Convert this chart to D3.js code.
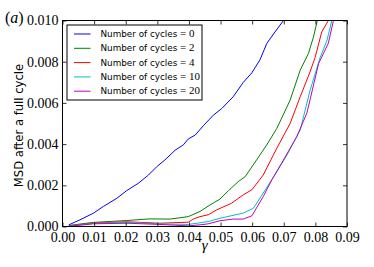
<!DOCTYPE html>
<html>
<head>
<meta charset="utf-8">
<script src="https://cdn.jsdelivr.net/npm/d3@7"></script>
<style>
  body { margin: 0; background: #fff; }
  svg { display: block; }
</style>
</head>
<body>
<div id="chart"></div>
<script>
// values
const xTicks = [0, 0.01, 0.02, 0.03, 0.04, 0.05, 0.06, 0.07, 0.08, 0.09];
const yTicks = [0, 0.002, 0.004, 0.006, 0.008, 0.010];
const cycleLabels = ["0", "2", "4", "10", "20"];
const colors = ["#0000ff", "#008000", "#ff0000", "#00bfbf", "#bf00bf"];

const gamma0 = [0.002, 0.0055, 0.0098, 0.0129, 0.0172, 0.0203, 0.024, 0.0272, 0.0298, 0.0324, 0.0356, 0.0382, 0.0398, 0.042, 0.0446, 0.0477, 0.0504, 0.054, 0.0572, 0.0599, 0.0625, 0.0646, 0.0672, 0.0699];
const msd0 = [0.00008, 0.00032, 0.00065, 0.00097, 0.00137, 0.00174, 0.0021, 0.0025, 0.0029, 0.00323, 0.0037, 0.00396, 0.00425, 0.00444, 0.0049, 0.0054, 0.00573, 0.0063, 0.0070, 0.00746, 0.0081, 0.00888, 0.00944, 0.0100];

const gamma2 = [0.002, 0.0098, 0.0203, 0.0277, 0.034, 0.0398, 0.0435, 0.0467, 0.0498, 0.0525, 0.0556, 0.0578, 0.0614, 0.0646, 0.0678, 0.072, 0.0752, 0.0778, 0.0794, 0.0806];
const msd2 = [0.00005, 0.0002, 0.00029, 0.00037, 0.00036, 0.00048, 0.00073, 0.00105, 0.00133, 0.00174, 0.00218, 0.00242, 0.00323, 0.00396, 0.00476, 0.00613, 0.00759, 0.0084, 0.0092, 0.0100];

const gamma4 = [0.002, 0.0098, 0.0203, 0.0308, 0.0398, 0.0414, 0.0435, 0.0461, 0.0488, 0.0535, 0.0572, 0.0599, 0.0635, 0.0678, 0.072, 0.0752, 0.0783, 0.0799, 0.082, 0.0841];
const msd4 = [0.00003, 0.00017, 0.00023, 0.00016, 0.00021, 0.00036, 0.00048, 0.00057, 0.00081, 0.00113, 0.00154, 0.00178, 0.0025, 0.0038, 0.005, 0.0063, 0.0075, 0.0082, 0.00944, 0.0100];

const gamma10 = [0.002, 0.0098, 0.0203, 0.0308, 0.0398, 0.0435, 0.0461, 0.0498, 0.0572, 0.0604, 0.0635, 0.0678, 0.071, 0.0752, 0.0783, 0.0815, 0.0836, 0.0852];
const msd10 = [0.00002, 0.00015, 0.0002, 0.00013, 0.0001, 0.00018, 0.00024, 0.0004, 0.00065, 0.00089, 0.00162, 0.00266, 0.00347, 0.00468, 0.0066, 0.0082, 0.009, 0.0100];

const gamma20 = [0.002, 0.0098, 0.0203, 0.0308, 0.0398, 0.0435, 0.0461, 0.0498, 0.054, 0.0572, 0.0599, 0.0635, 0.0662, 0.0699, 0.0741, 0.0773, 0.081, 0.0841, 0.0857];
const msd20 = [0.00001, 0.00013, 0.00016, 0.0001, 0.00003, 0.00008, 0.00013, 0.00028, 0.00036, 0.00036, 0.00052, 0.00145, 0.00226, 0.00323, 0.00436, 0.0055, 0.0079, 0.0089, 0.0100];

const series = [
    { gamma: gamma0, msd: msd0 },
    { gamma: gamma2, msd: msd2 },
    { gamma: gamma4, msd: msd4 },
    { gamma: gamma10, msd: msd10 },
    { gamma: gamma20, msd: msd20 }
].map((s, i) => ({
    label: cycleLabels[i],
    color: colors[i],
    points: s.gamma.map((g, j) => [g, s.msd[j]])
}));

const width = 374;
const height = 267;
const margin = { top: 20.5, right: 27, bottom: 40.5, left: 62.5 };
const innerW = width - margin.left - margin.right;
const innerH = height - margin.top - margin.bottom;

const serif = "'Liberation Serif', 'Times New Roman', serif";
const sans = "'DejaVu Sans', sans-serif";

const x = d3.scaleLinear().domain([0, 0.09]).range([0, innerW]);
const y = d3.scaleLinear().domain([0, 0.010]).range([innerH, 0]);

const svg = d3.select("#chart")
    .append("svg")
    .attr("width", width)
    .attr("height", height);

svg.append("defs").append("clipPath")
    .attr("id", "plot-clip")
    .append("rect")
    .attr("width", innerW)
    .attr("height", innerH);

const g = svg.append("g")
    .attr("transform", `translate(${margin.left},${margin.top})`);

// data lines
const line = d3.line()
    .x(d => x(d[0]))
    .y(d => y(d[1]));

g.append("g")
    .attr("clip-path", "url(#plot-clip)")
    .selectAll("path")
    .data(series)
    .join("path")
    .attr("fill", "none")
    .attr("stroke", d => d.color)
    .attr("stroke-width", 1)
    .attr("d", d => line(d.points));

// axes: ticks pointing inward on all four sides
function styleAxis(sel) {
    sel.select(".domain").remove();
    sel.selectAll(".tick line").attr("stroke", "#000").attr("stroke-width", 0.8);
}

g.append("g")
    .attr("transform", `translate(0,${innerH})`)
    .call(d3.axisBottom(x).tickValues(xTicks).tickFormat(d3.format(".2f")).tickSize(-4).tickPadding(6))
    .call(styleAxis)
    .selectAll("text")
    .attr("font-family", serif)
    .attr("font-size", 14)
    .attr("fill", "#000");

g.append("g")
    .call(d3.axisTop(x).tickValues(xTicks).tickFormat("").tickSize(-4))
    .call(styleAxis);

g.append("g")
    .call(d3.axisLeft(y).tickValues(yTicks).tickFormat(d3.format(".3f")).tickSize(-4).tickPadding(4))
    .call(styleAxis)
    .selectAll("text")
    .attr("font-family", serif)
    .attr("font-size", 14)
    .attr("fill", "#000");

g.append("g")
    .attr("transform", `translate(${innerW},0)`)
    .call(d3.axisRight(y).tickValues(yTicks).tickFormat("").tickSize(-4))
    .call(styleAxis);

// frame
g.append("rect")
    .attr("width", innerW)
    .attr("height", innerH)
    .attr("fill", "none")
    .attr("stroke", "#000")
    .attr("stroke-width", 1);

// axis labels
svg.append("text")
    .attr("x", margin.left + innerW / 2)
    .attr("y", 250)
    .attr("text-anchor", "middle")
    .attr("font-family", serif)
    .attr("font-style", "italic")
    .attr("font-size", 15)
    .text("γ");

svg.append("text")
    .attr("transform", `translate(23,${margin.top + innerH / 2 + 2}) rotate(-90)`)
    .attr("text-anchor", "middle")
    .attr("font-family", sans)
    .attr("font-size", 11.6)
    .text("MSD after a full cycle");

// panel tag
const tag = svg.append("text")
    .attr("x", 5)
    .attr("y", 23)
    .attr("font-family", serif)
    .attr("font-size", 16);
tag.append("tspan").text("(");
tag.append("tspan").attr("font-style", "italic").text("a");
tag.append("tspan").text(")");

// legend
const legend = g.append("g").attr("transform", "translate(4.5,4.5)");
legend.append("rect")
    .attr("width", 135)
    .attr("height", 75)
    .attr("fill", "#fff")
    .attr("stroke", "#000")
    .attr("stroke-width", 1);

const item = legend.selectAll("g.item")
    .data(series)
    .join("g")
    .attr("class", "item")
    .attr("transform", (d, i) => `translate(0,${9 + i * 14.3})`);

item.append("line")
    .attr("x1", 7)
    .attr("x2", 23.5)
    .attr("stroke", d => d.color)
    .attr("stroke-width", 1);

const label = item.append("text")
    .attr("x", 33.5)
    .attr("dy", "0.35em")
    .attr("font-size", 8.8);
label.append("tspan")
    .attr("font-family", sans)
    .text("Number of cycles ");
label.append("tspan")
    .attr("font-family", serif)
    .attr("font-size", 11)
    .text(d => "= " + d.label);
</script>
</body>
</html>
